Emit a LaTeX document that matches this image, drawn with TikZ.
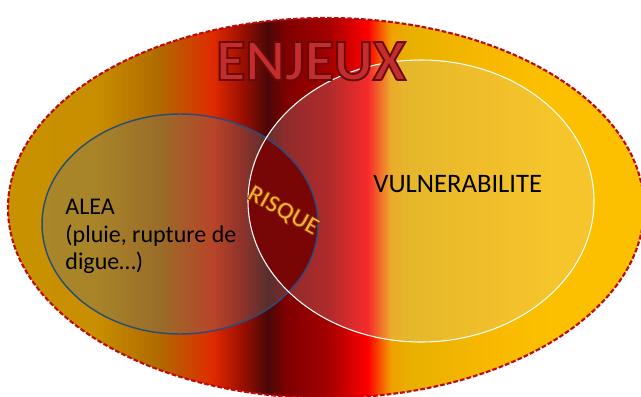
\documentclass[tikz,border=0pt]{standalone}
\usepackage{fontspec}
\setmainfont{Carlito}
\usepackage{tikz}
\usetikzlibrary{positioning}

\definecolor{goldleft}{RGB}{200,145,0}
\definecolor{goldright}{RGB}{252,192,0}
\definecolor{borderred}{RGB}{190,10,10}
\definecolor{aleablue}{RGB}{45,75,120}
\definecolor{risquered}{RGB}{120,0,0}
\definecolor{enjeuxred}{RGB}{195,45,45}
\definecolor{risqueorange}{RGB}{248,178,60}

% background band of the outer ellipse, 25bp..75bp = its width
\pgfdeclarehorizontalshading{enjeuxshade}{100bp}{
    color(0bp)=(goldleft);
    color(25bp)=(goldleft);
    color(31.7bp)=(rgb,255:red,200;green,144;blue,0);
    color(36.9bp)=(rgb,255:red,176;green,106;blue,0);
    color(41.1bp)=(rgb,255:red,224;green,42;blue,0);
    color(43.3bp)=(rgb,255:red,160;green,16;blue,0);
    color(45.4bp)=(rgb,255:red,74;green,8;blue,8);
    color(46.9bp)=(rgb,255:red,128;green,0;blue,0);
    color(50.2bp)=(rgb,255:red,165;green,0;blue,0);
    color(53.3bp)=(rgb,255:red,255;green,0;blue,0);
    color(55.1bp)=(rgb,255:red,240;green,160;blue,0);
    color(56.5bp)=(rgb,255:red,232;green,176;blue,0);
    color(62.8bp)=(rgb,255:red,248;green,184;blue,0);
    color(67.7bp)=(goldright);
    color(75bp)=(goldright);
    color(100bp)=(goldright)}

\begin{document}
\begin{tikzpicture}[
            x = 0.75pt, y = -0.75pt, % one unit per pixel
            semithick % line style
        ]

        \tikzstyle{every node}=[inner sep = 0pt]
        \tikzstyle{set text}=[
            font = \fontsize{18}{20.5}\selectfont,
            text = black,
            align = left
        ]

        \useasboundingbox (0,0) rectangle (641,396);

        % enjeux
        \shade[shading = enjeuxshade] (326,208) ellipse [x radius = 318, y radius = 190];

        % alea and vulnerabilite
        \fill[black!55, opacity = 0.36] (180,224) ellipse [x radius = 138, y radius = 110];
        \fill[white!85!black, opacity = 0.2] (421,201) ellipse [x radius = 173, y radius = 141];

        % risque = intersection
        \begin{scope}
            \clip (180,224) ellipse [x radius = 138, y radius = 110];
            \fill[risquered, opacity = 0.92] (421,201) ellipse [x radius = 173, y radius = 141];
        \end{scope}

        \draw[aleablue, line width = 1.1pt] (180,224) ellipse [x radius = 138, y radius = 110];
        \draw[white, line width = 0.8pt] (421,201) ellipse [x radius = 173, y radius = 141];
        \draw[borderred, line width = 1.6pt, dash pattern = on 3.5pt off 1.6pt]
            (326,208) ellipse [x radius = 318, y radius = 190];

        \node[anchor = base, text = enjeuxred, font = \bfseries\fontsize{44}{44}\selectfont, xscale = 1.02] (enjeux) at (311,80)
            {\special{pdf:code 2 Tr 1.4 w 0.42 0.04 0.04 RG}ENJEUX\special{pdf:code 0 Tr}};
        \node[set text, anchor = north west] (alea) at (65,199)
            {ALEA\\(pluie, rupture de\\digue\ldots)};
        \node[set text, anchor = base west, font = \fontsize{20}{22}\selectfont] (vuln) at (373,192) {VULNERABILITE};
        \node[rotate = -29, text = risqueorange, font = \bfseries\fontsize{18.5}{18.5}\selectfont] (risque) at (283,211)
            {\special{pdf:code 2 Tr 0.6 w 0.55 0.22 0 RG}RISQUE\special{pdf:code 0 Tr}};

  \end{tikzpicture}
\end{document}
